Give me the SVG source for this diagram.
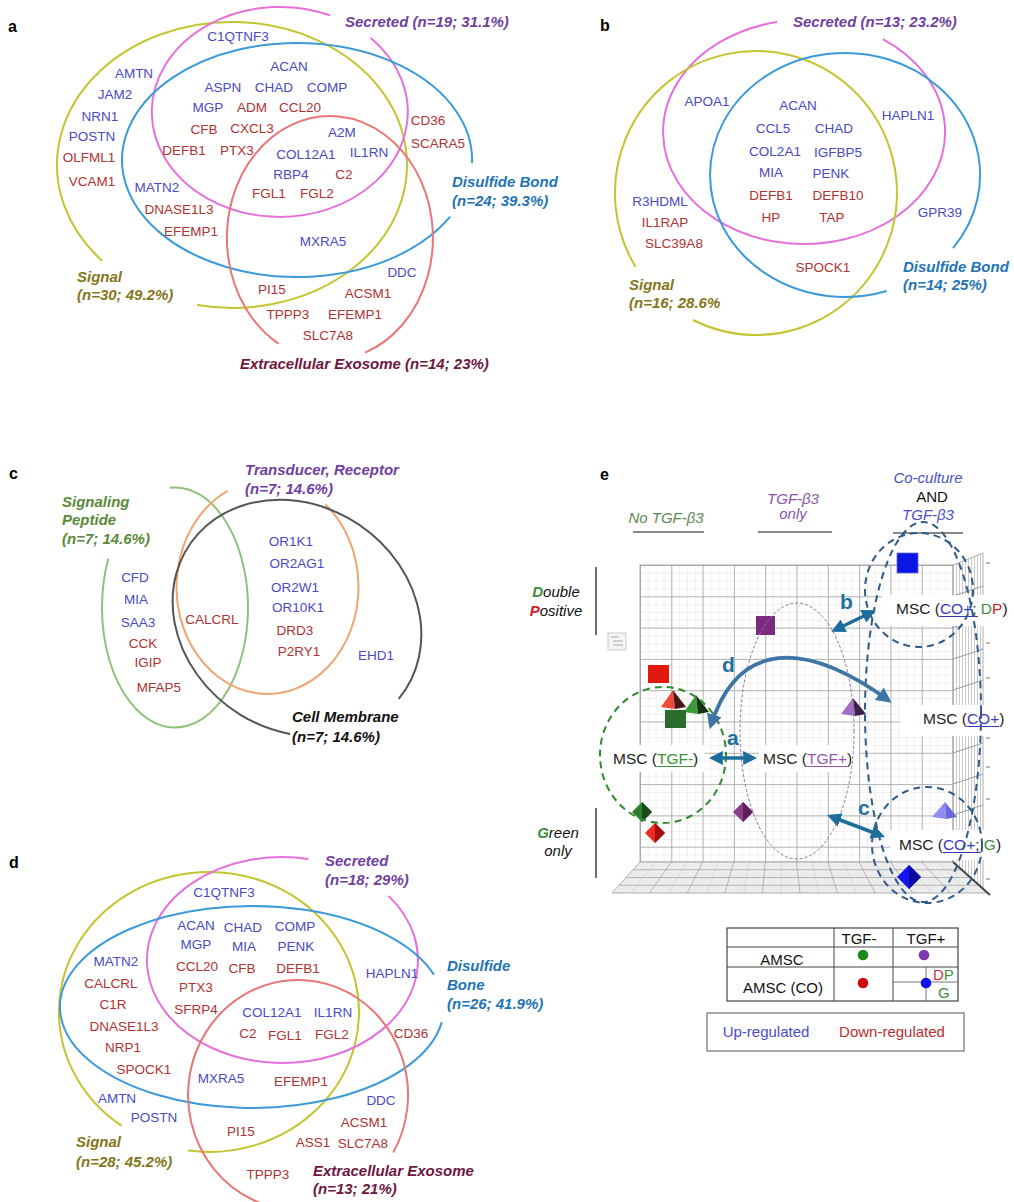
<svg xmlns="http://www.w3.org/2000/svg" width="1014" height="1202" viewBox="0 0 1014 1202">
<defs>
<style>
.g{font-family:"Liberation Sans",Arial,sans-serif;font-size:13.5px;text-anchor:middle}
.up{fill:#4a4ac2}
.dn{fill:#b03232}
.lab{font-family:"Liberation Sans",Arial,sans-serif;font-size:15px;font-weight:bold;font-style:italic}
.pl{font-family:"Liberation Sans",Arial,sans-serif;font-size:16px;font-weight:bold;fill:#000}
.v{fill:none;stroke-width:2}
.yel{stroke:#c4c430}.pnk{stroke:#e470dc}.blu{stroke:#3c9ad8}.sal{stroke:#e87676}
.sig{fill:#85761a}.sec{fill:#7040a0}.dis{fill:#1f74b4}.exo{fill:#6e1840}
.t{font-family:"Liberation Sans",Arial,sans-serif;font-size:15px}
.hd{font-family:"Liberation Sans",Arial,sans-serif;font-size:15px;font-style:italic;text-anchor:middle}
.msc{font-family:"Liberation Sans",Arial,sans-serif;font-size:15.5px;fill:#222}
.arr{fill:none;stroke:#1e6e9c;stroke-width:3.5}
.al{font-family:"Liberation Sans",Arial,sans-serif;font-size:21px;font-weight:bold;fill:#1f6fa0}
.bd{fill:none;stroke:#2f5a8a;stroke-width:2;stroke-dasharray:7 5}
</style>
<pattern id="gmin" x="640" y="565" width="7.825" height="7.825" patternUnits="userSpaceOnUse"><path d="M0,0.3H7.825M0.3,0V7.825" stroke="#e0e0e0" stroke-width="0.6" fill="none"/></pattern>
<pattern id="gmaj" x="640" y="565" width="31.3" height="31.3" patternUnits="userSpaceOnUse"><path d="M0,0.4H31.3M0.4,0V31.3" stroke="#a8a8a8" stroke-width="0.9" fill="none"/></pattern>
<pattern id="wallv" x="953" y="0" width="3" height="10" patternUnits="userSpaceOnUse"><rect width="3" height="10" fill="#fff"/><path d="M0.5,0V10" stroke="#bdbdbd" stroke-width="0.8"/></pattern>
<marker id="ah" viewBox="0 0 10 10" refX="7" refY="5" markerWidth="4" markerHeight="4" orient="auto-start-reverse" markerUnits="strokeWidth"><path d="M0,0L10,5L0,10z" fill="#1e6e9c"/></marker>
<marker id="ahd" viewBox="0 0 10 10" refX="7" refY="5" markerWidth="4" markerHeight="4" orient="auto-start-reverse" markerUnits="strokeWidth"><path d="M0,0L10,5L0,10z" fill="#3e74a6"/></marker>
</defs>
<rect width="1014" height="1202" fill="#fff"/>

<!-- ================= PANEL A ================= -->
<g id="panel-a">
<text class="pl" x="8" y="32">a</text>
<g id="a-signal"><path class="v yel" d="M102,260.7 A175,143 0 1 1 197.1,305.1"/>
<text class="lab sig" x="77" y="282">Signal</text><text class="lab sig" x="77" y="300">(n=30; 49.2%)</text></g>
<g id="a-secreted"><path class="v pnk" d="M370.5,37.8 A128,105 0 1 1 330,15.3"/>
<text class="lab sec" x="345" y="27">Secreted (n=19; 31.1%)</text></g>
<g id="a-disulfide"><path class="v blu" d="M450.1,216.7 A175,117 0 1 1 472,163.1"/>
<text class="lab dis" x="452" y="187">Disulfide Bond</text><text class="lab dis" x="452" y="206">(n=24; 39.3%)</text></g>
<g id="a-exosome"><path class="v sal" d="M278.5,343.7 A103,122 0 1 1 365.2,352.6"/>
<text class="lab exo" x="240" y="369">Extracellular Exosome (n=14; 23%)</text></g>
<g id="a-genes" class="g">
<text class="up" x="238" y="41">C1QTNF3</text>
<text class="up" x="134" y="78">AMTN</text>
<text class="up" x="115" y="99">JAM2</text>
<text class="up" x="100" y="121">NRN1</text>
<text class="up" x="92" y="141">POSTN</text>
<text class="dn" x="89" y="162">OLFML1</text>
<text class="dn" x="92" y="186">VCAM1</text>
<text class="up" x="289" y="71">ACAN</text>
<text class="up" x="223" y="92">ASPN</text>
<text class="up" x="274" y="92">CHAD</text>
<text class="up" x="327" y="92">COMP</text>
<text class="up" x="208" y="112">MGP</text>
<text class="dn" x="252" y="112">ADM</text>
<text class="dn" x="300" y="112">CCL20</text>
<text class="dn" x="204" y="134">CFB</text>
<text class="dn" x="252" y="133">CXCL3</text>
<text class="up" x="342" y="137">A2M</text>
<text class="dn" x="184" y="155">DEFB1</text>
<text class="dn" x="237" y="155">PTX3</text>
<text class="up" x="306" y="159">COL12A1</text>
<text class="up" x="369" y="157">IL1RN</text>
<text class="dn" x="428" y="125">CD36</text>
<text class="dn" x="438" y="148">SCARA5</text>
<text class="up" x="291" y="179">RBP4</text>
<text class="dn" x="344" y="179">C2</text>
<text class="dn" x="269" y="198">FGL1</text>
<text class="dn" x="317" y="198">FGL2</text>
<text class="up" x="157" y="192">MATN2</text>
<text class="dn" x="179" y="214">DNASE1L3</text>
<text class="dn" x="191" y="236">EFEMP1</text>
<text class="up" x="323" y="246">MXRA5</text>
<text class="up" x="402" y="277">DDC</text>
<text class="dn" x="272" y="294">PI15</text>
<text class="dn" x="368" y="298">ACSM1</text>
<text class="dn" x="288" y="319">TPPP3</text>
<text class="dn" x="355" y="319">EFEMP1</text>
<text class="dn" x="328" y="340">SLC7A8</text>
</g>
</g>

<!-- ================= PANEL B ================= -->
<g id="panel-b">
<text class="pl" x="600" y="31">b</text>
<g id="b-secreted"><path class="v pnk" d="M882.8,39.1 A141,112 0 1 1 777.1,22.1"/>
<text class="lab sec" x="793" y="27">Secreted (n=13; 23.2%)</text></g>
<g id="b-signal"><path class="v yel" d="M635.5,266.8 A141,142 0 1 1 692.9,320"/>
<text class="lab sig" x="629" y="290">Signal</text><text class="lab sig" x="629" y="308">(n=16; 28.6%</text></g>
<g id="b-disulfide"><path class="v blu" d="M886.7,291 A135,122 0 1 1 953.1,248.1"/>
<text class="lab dis" x="903" y="272">Disulfide Bond</text><text class="lab dis" x="903" y="290">(n=14; 25%)</text></g>
<g id="b-genes" class="g">
<text class="up" x="707" y="106">APOA1</text>
<text class="up" x="798" y="110">ACAN</text>
<text class="up" x="908" y="120">HAPLN1</text>
<text class="up" x="773" y="133">CCL5</text>
<text class="up" x="834" y="133">CHAD</text>
<text class="up" x="775" y="156">COL2A1</text>
<text class="up" x="838" y="157">IGFBP5</text>
<text class="up" x="771" y="177">MIA</text>
<text class="up" x="831" y="178">PENK</text>
<text class="dn" x="771" y="200">DEFB1</text>
<text class="dn" x="838" y="200">DEFB10</text>
<text class="dn" x="771" y="222">HP</text>
<text class="dn" x="832" y="222">TAP</text>
<text class="up" x="660" y="206">R3HDML</text>
<text class="dn" x="665" y="227">IL1RAP</text>
<text class="dn" x="674" y="248">SLC39A8</text>
<text class="up" x="940" y="217">GPR39</text>
<text class="dn" x="823" y="272">SPOCK1</text>
</g>
</g>

<!-- ================= PANEL C ================= -->
<g id="panel-c">
<text class="pl" x="9" y="479">c</text>
<g id="c-signaling"><path class="v" stroke="#90c27c" d="M169.9,487.8 A73,120 0 1 1 108.3,558.7"/>
<text class="lab" fill="#5a8a3a" x="62" y="507">Signaling</text><text class="lab" fill="#5a8a3a" x="62" y="525">Peptide</text><text class="lab" fill="#5a8a3a" x="62" y="544">(n=7; 14.6%)</text></g>
<g id="c-transducer"><path class="v" stroke="#f0a472" d="M325.4,504.4 A91,107 0 1 1 227.6,490.8"/>
<text class="lab sec" x="245" y="475">Transducer, Receptor</text><text class="lab sec" x="245" y="494">(n=7; 14.6%)</text></g>
<g id="c-membrane"><path class="v" stroke="#555" d="M290.2,734 A130,112 35 1 1 398.7,698.8"/>
<text class="lab" fill="#111" x="292" y="722">Cell Membrane</text><text class="lab" fill="#111" x="292" y="742">(n=7; 14.6%)</text></g>
<g id="c-genes" class="g">
<text class="up" x="135" y="582">CFD</text>
<text class="up" x="136" y="604">MIA</text>
<text class="up" x="138" y="627">SAA3</text>
<text class="dn" x="143" y="648">CCK</text>
<text class="dn" x="148" y="667">IGIP</text>
<text class="dn" x="159" y="692">MFAP5</text>
<text class="dn" x="212" y="624">CALCRL</text>
<text class="up" x="291" y="546">OR1K1</text>
<text class="up" x="297" y="568">OR2AG1</text>
<text class="up" x="295" y="592">OR2W1</text>
<text class="up" x="298" y="612">OR10K1</text>
<text class="dn" x="295" y="635">DRD3</text>
<text class="dn" x="299" y="656">P2RY1</text>
<text class="up" x="376" y="660">EHD1</text>
</g>
</g>

<!-- ================= PANEL D ================= -->
<g id="panel-d">
<text class="pl" x="9" y="868">d</text>
<g id="d-signal"><path class="v yel" d="M121.5,1125.7 A150,140 0 1 1 188.1,1150.6"/>
<text class="lab sig" x="76" y="1147">Signal</text><text class="lab sig" x="76" y="1167">(n=28; 45.2%)</text></g>
<g id="d-secreted"><path class="v pnk" d="M388.5,895.9 A135.5,103 0 1 1 308.4,858.9"/>
<text class="lab sec" x="325" y="866">Secreted</text><text class="lab sec" x="325" y="885">(n=18; 29%)</text></g>
<g id="d-disulfide"><path class="v blu" d="M441.8,1022.1 A192,101 0 1 1 434,974.8"/>
<text class="lab dis" x="447" y="971">Disulfide</text><text class="lab dis" x="447" y="990">Bone</text><text class="lab dis" x="447" y="1009">(n=26; 41.9%)</text></g>
<g id="d-exosome"><path class="v sal" d="M298,1210 A110,115 0 1 1 393.3,1152.5"/>
<text class="lab exo" x="313" y="1176">Extracellular Exosome</text><text class="lab exo" x="313" y="1194">(n=13; 21%)</text></g>
<g id="d-genes" class="g">
<text class="up" x="224" y="897">C1QTNF3</text>
<text class="up" x="196" y="930">ACAN</text>
<text class="up" x="243" y="932">CHAD</text>
<text class="up" x="295" y="931">COMP</text>
<text class="up" x="196" y="949">MGP</text>
<text class="up" x="244" y="951">MIA</text>
<text class="up" x="296" y="951">PENK</text>
<text class="dn" x="197" y="971">CCL20</text>
<text class="dn" x="242" y="973">CFB</text>
<text class="dn" x="298" y="973">DEFB1</text>
<text class="dn" x="196" y="992">PTX3</text>
<text class="dn" x="196" y="1014">SFRP4</text>
<text class="up" x="272" y="1017">COL12A1</text>
<text class="up" x="333" y="1017">IL1RN</text>
<text class="dn" x="248" y="1038">C2</text>
<text class="dn" x="285" y="1040">FGL1</text>
<text class="dn" x="332" y="1039">FGL2</text>
<text class="up" x="116" y="966">MATN2</text>
<text class="dn" x="111" y="988">CALCRL</text>
<text class="dn" x="113" y="1009">C1R</text>
<text class="dn" x="124" y="1031">DNASE1L3</text>
<text class="dn" x="123" y="1052">NRP1</text>
<text class="dn" x="144" y="1074">SPOCK1</text>
<text class="up" x="117" y="1103">AMTN</text>
<text class="up" x="154" y="1122">POSTN</text>
<text class="up" x="392" y="978">HAPLN1</text>
<text class="dn" x="411" y="1038">CD36</text>
<text class="up" x="221" y="1083">MXRA5</text>
<text class="dn" x="301" y="1086">EFEMP1</text>
<text class="up" x="381" y="1105">DDC</text>
<text class="dn" x="364" y="1127">ACSM1</text>
<text class="dn" x="313" y="1147">ASS1</text>
<text class="dn" x="363" y="1148">SLC7A8</text>
<text class="dn" x="241" y="1136">PI15</text>
<text class="dn" x="268" y="1179">TPPP3</text>
</g>
</g>

<!-- ================= PANEL E ================= -->
<g id="panel-e">
<text class="pl" x="600" y="480">e</text>
<g id="e-headers">
<text class="hd" fill="#5d8a57" x="666" y="523">No TGF-β3</text>
<text class="hd" fill="#8a55a5" x="793" y="504">TGF-β3</text>
<text class="hd" fill="#8a55a5" x="793" y="519">only</text>
<text class="hd" fill="#4a50c8" x="928" y="483">Co-culture</text>
<text class="t" fill="#111" x="932" y="502" text-anchor="middle">AND</text>
<text class="hd" fill="#4a50c8" x="928" y="520">TGF-β3</text>
<path d="M633,532H704M758,532H832M893,533H963" stroke="#111" stroke-width="1.2"/>
<text class="hd" x="556" y="597" fill="#111"><tspan fill="#3e8e3e" font-weight="bold">D</tspan>ouble</text>
<text class="hd" x="556" y="616" fill="#111"><tspan fill="#cc2020" font-weight="bold">P</tspan>ositive</text>
<text class="hd" x="558" y="838" fill="#111"><tspan fill="#3e8e3e" font-weight="bold">G</tspan>reen</text>
<text class="hd" x="558" y="856" fill="#111">only</text>
<path d="M596,567V635M596,808V878" stroke="#111" stroke-width="1.2"/>
</g>

<g id="e-plot">
<rect x="640" y="565" width="313" height="297" fill="#fff"/>
<rect x="640" y="565" width="313" height="297" fill="url(#gmin)"/>
<rect x="640" y="565" width="313" height="297" fill="url(#gmaj)"/>
<rect x="640" y="565" width="313" height="297" fill="none" stroke="#9a9a9a" stroke-width="0.8"/>
<polygon points="953,565 983,553 983,888 953,862" fill="url(#wallv)" stroke="#999" stroke-width="0.8"/>
<path d="M953,596L983,586M953,628L983,618M953,659L983,649M953,690L983,680M953,721L983,711M953,753L983,743M953,784L983,774M953,815L983,805M953,846L983,836" stroke="#888" stroke-width="0.8"/>
<polygon points="640,862 953,862 988,893 612,893" fill="#ececec" stroke="#999" stroke-width="0.8"/>
<path d="M671.3,862L649.6,893M702.6,862L687.2,893M733.9,862L724.8,893M765.2,862L762.4,893M796.5,862L800,893M827.8,862L837.6,893M859.1,862L875.2,893M890.4,862L912.8,893M921.7,862L950.4,893M633,869.75H961.75M626,877.5H970.5M619,885.25H979.25" stroke="#9c9c9c" stroke-width="0.7" fill="none"/>
<path d="M655.6,862L630.8,893M687,862L668.4,893M718.2,862L706,893M749.5,862L743.6,893M780.8,862L781.2,893M812.1,862L818.8,893M843.4,862L856.4,893M874.7,862L894,893M906,862L931.6,893M937.3,862L969.2,893" stroke="#c4c4c4" stroke-width="0.5" fill="none"/>
<path d="M953,862L990,895" stroke="#444" stroke-width="2"/>
<path d="M986,563H990M986,605H990M986,643H990M986,678H990M986,738H990M986,767H990M986,799H990M986,851H990M986,879H990" stroke="#777" stroke-width="1"/>
<rect x="608" y="633" width="18" height="17" fill="#f5f5f5" stroke="#aaa" stroke-width="0.6"/>
<path d="M611,637H619M613,641H623M613,645H623" stroke="#aaa" stroke-width="1"/>
</g>

<g id="e-markers">
<rect x="897" y="553" width="21" height="20" fill="#0a16e6" stroke="#6a6ad0" stroke-width="0.8"/>
<rect x="756" y="616" width="19" height="19" fill="#7b2a82"/>
<rect x="648" y="665" width="21" height="18" fill="#e3180e"/>
<polygon points="673,690 661,707 675,709" fill="#f04a3a"/><polygon points="673,690 675,709 686,707" fill="#4a1414"/>
<polygon points="696,695 684,712 698,714" fill="#3c9a3c"/><polygon points="696,695 698,714 709,712" fill="#143214"/>
<rect x="665" y="710" width="21" height="18" fill="#2b6b2b"/>
<polygon points="853,698 841,714 855,716" fill="#a070c8"/><polygon points="853,698 855,716 866,714" fill="#3e2048"/>
<polygon points="945,802 932,817 946,819" fill="#8e8ef5"/><polygon points="945,802 946,819 957,817" fill="#6a6ad8"/>
<polygon points="642,802 652,812 642,822 632,812" fill="#2f7d2f"/><polygon points="642,802 652,812 642,822" fill="#1a4a1a"/>
<polygon points="655,823 665,833 655,843 645,833" fill="#ee2a20"/><polygon points="655,823 665,833 655,843" fill="#a01010"/>
<polygon points="743,802 753,812 743,822 733,812" fill="#8b3b8b"/><polygon points="743,802 753,812 743,822" fill="#5a205a"/>
<polygon points="909,865 921,877 909,889 897,877" fill="#1414ee"/><polygon points="909,865 921,877 909,889" fill="#0a0aa0"/>
</g>

<g id="e-labelboxes" fill="#fff">
<rect x="605" y="745" width="100" height="27"/>
<rect x="759" y="745" width="100" height="27"/>
<rect x="900" y="705" width="112" height="31"/>
<rect x="882" y="595" width="130" height="31"/>
<rect x="890" y="830" width="122" height="30"/>
</g>

<g id="node-msc-tgfminus"><text class="msc" x="613" y="764">MSC (<tspan fill="#3e8e3e">TGF-</tspan>)</text><line x1="657" y1="766.5" x2="693" y2="766.5" stroke="#3e8e3e" stroke-width="1"/></g>
<g id="node-msc-tgfplus"><text class="msc" x="763" y="764">MSC (<tspan fill="#9a55a8">TGF+</tspan>)</text><line x1="807" y1="766.5" x2="847" y2="766.5" stroke="#9a55a8" stroke-width="1"/></g>
<g id="node-msc-co"><text class="msc" x="923" y="724">MSC (<tspan fill="#3a3ac0">CO+</tspan>)</text><line x1="967" y1="726.5" x2="999" y2="726.5" stroke="#3a3ac0" stroke-width="1"/></g>
<g id="node-msc-co-dp"><text class="msc" x="896" y="614">MSC (<tspan fill="#3a3ac0">CO+</tspan>; <tspan fill="#3e8e3e">D</tspan><tspan fill="#cc2222">P</tspan>)</text><line x1="940" y1="616.5" x2="978" y2="616.5" stroke="#3a3ac0" stroke-width="1"/></g>
<g id="node-msc-co-g"><text class="msc" x="899" y="850">MSC (<tspan fill="#3a3ac0">CO+</tspan>; <tspan fill="#3e8e3e">G</tspan>)</text><line x1="943" y1="852.5" x2="981" y2="852.5" stroke="#3a3ac0" stroke-width="1"/></g>

<g id="e-groups">
<ellipse cx="797" cy="731" rx="57" ry="128" fill="none" stroke="#9a6aa8" stroke-width="1" stroke-dasharray="3 2"/>
<ellipse cx="663" cy="755" rx="63" ry="68" fill="none" stroke="#2e8b2e" stroke-width="2" stroke-dasharray="7 5"/>
<ellipse class="bd" cx="923" cy="712" rx="58" ry="190"/>
<ellipse class="bd" cx="919" cy="590" rx="54" ry="57"/>
<ellipse class="bd" cx="927" cy="845" rx="55" ry="58"/>
</g>

<g id="connectors">
<line class="arr" x1="713" y1="758" x2="753" y2="758" marker-start="url(#ah)" marker-end="url(#ah)"/>
<line class="arr" x1="835" y1="630" x2="872" y2="612" marker-start="url(#ah)" marker-end="url(#ah)"/>
<line class="arr" x1="831" y1="816.5" x2="881" y2="835.5" marker-start="url(#ah)" marker-end="url(#ah)"/>
<path d="M711,725 C738,640 805,640 888,700" fill="none" stroke="#3e74a6" stroke-width="3.8" marker-start="url(#ahd)" marker-end="url(#ahd)"/>
<text class="al" x="727" y="745">a</text>
<text class="al" x="840" y="609">b</text>
<text class="al" x="858" y="815">c</text>
<text class="al" x="722" y="672">d</text>
</g>

<g id="e-table">
<rect x="727" y="928" width="231" height="73" fill="#fff" stroke="#444" stroke-width="1.2"/>
<path d="M834,928V1001M893,928V1001M727,947H958M727,967H958" stroke="#444" stroke-width="1"/>
<path d="M926,967V1001M893,982H958" stroke="#555" stroke-width="0.8"/>
<text class="t" x="859" y="944" text-anchor="middle" fill="#111">TGF-</text>
<text class="t" x="926" y="944" text-anchor="middle" fill="#111">TGF+</text>
<text class="t" x="782" y="965" text-anchor="middle" fill="#111">AMSC</text>
<text class="t" x="783" y="993" text-anchor="middle" fill="#111">AMSC (CO)</text>
<circle cx="863" cy="955" r="5.3" fill="#1a8a1a"/>
<circle cx="924" cy="955" r="5.3" fill="#7a3ab0"/>
<circle cx="863" cy="983" r="5.3" fill="#cc0a0a"/>
<circle cx="926" cy="983" r="5.3" fill="#1010ee"/>
<text class="t" x="933" y="980"><tspan fill="#cc3333">D</tspan><tspan fill="#3e8e3e">P</tspan></text>
<text class="t" x="938" y="998" fill="#3e8e3e">G</text>
</g>
<g id="e-legend">
<rect x="707" y="1013" width="257" height="38" fill="#fff" stroke="#555" stroke-width="1"/>
<text class="t" x="766" y="1037" text-anchor="middle" fill="#4a4ac8">Up-regulated</text>
<text class="t" x="892" y="1037" text-anchor="middle" fill="#b83030">Down-regulated</text>
</g>
</g>
</svg>
